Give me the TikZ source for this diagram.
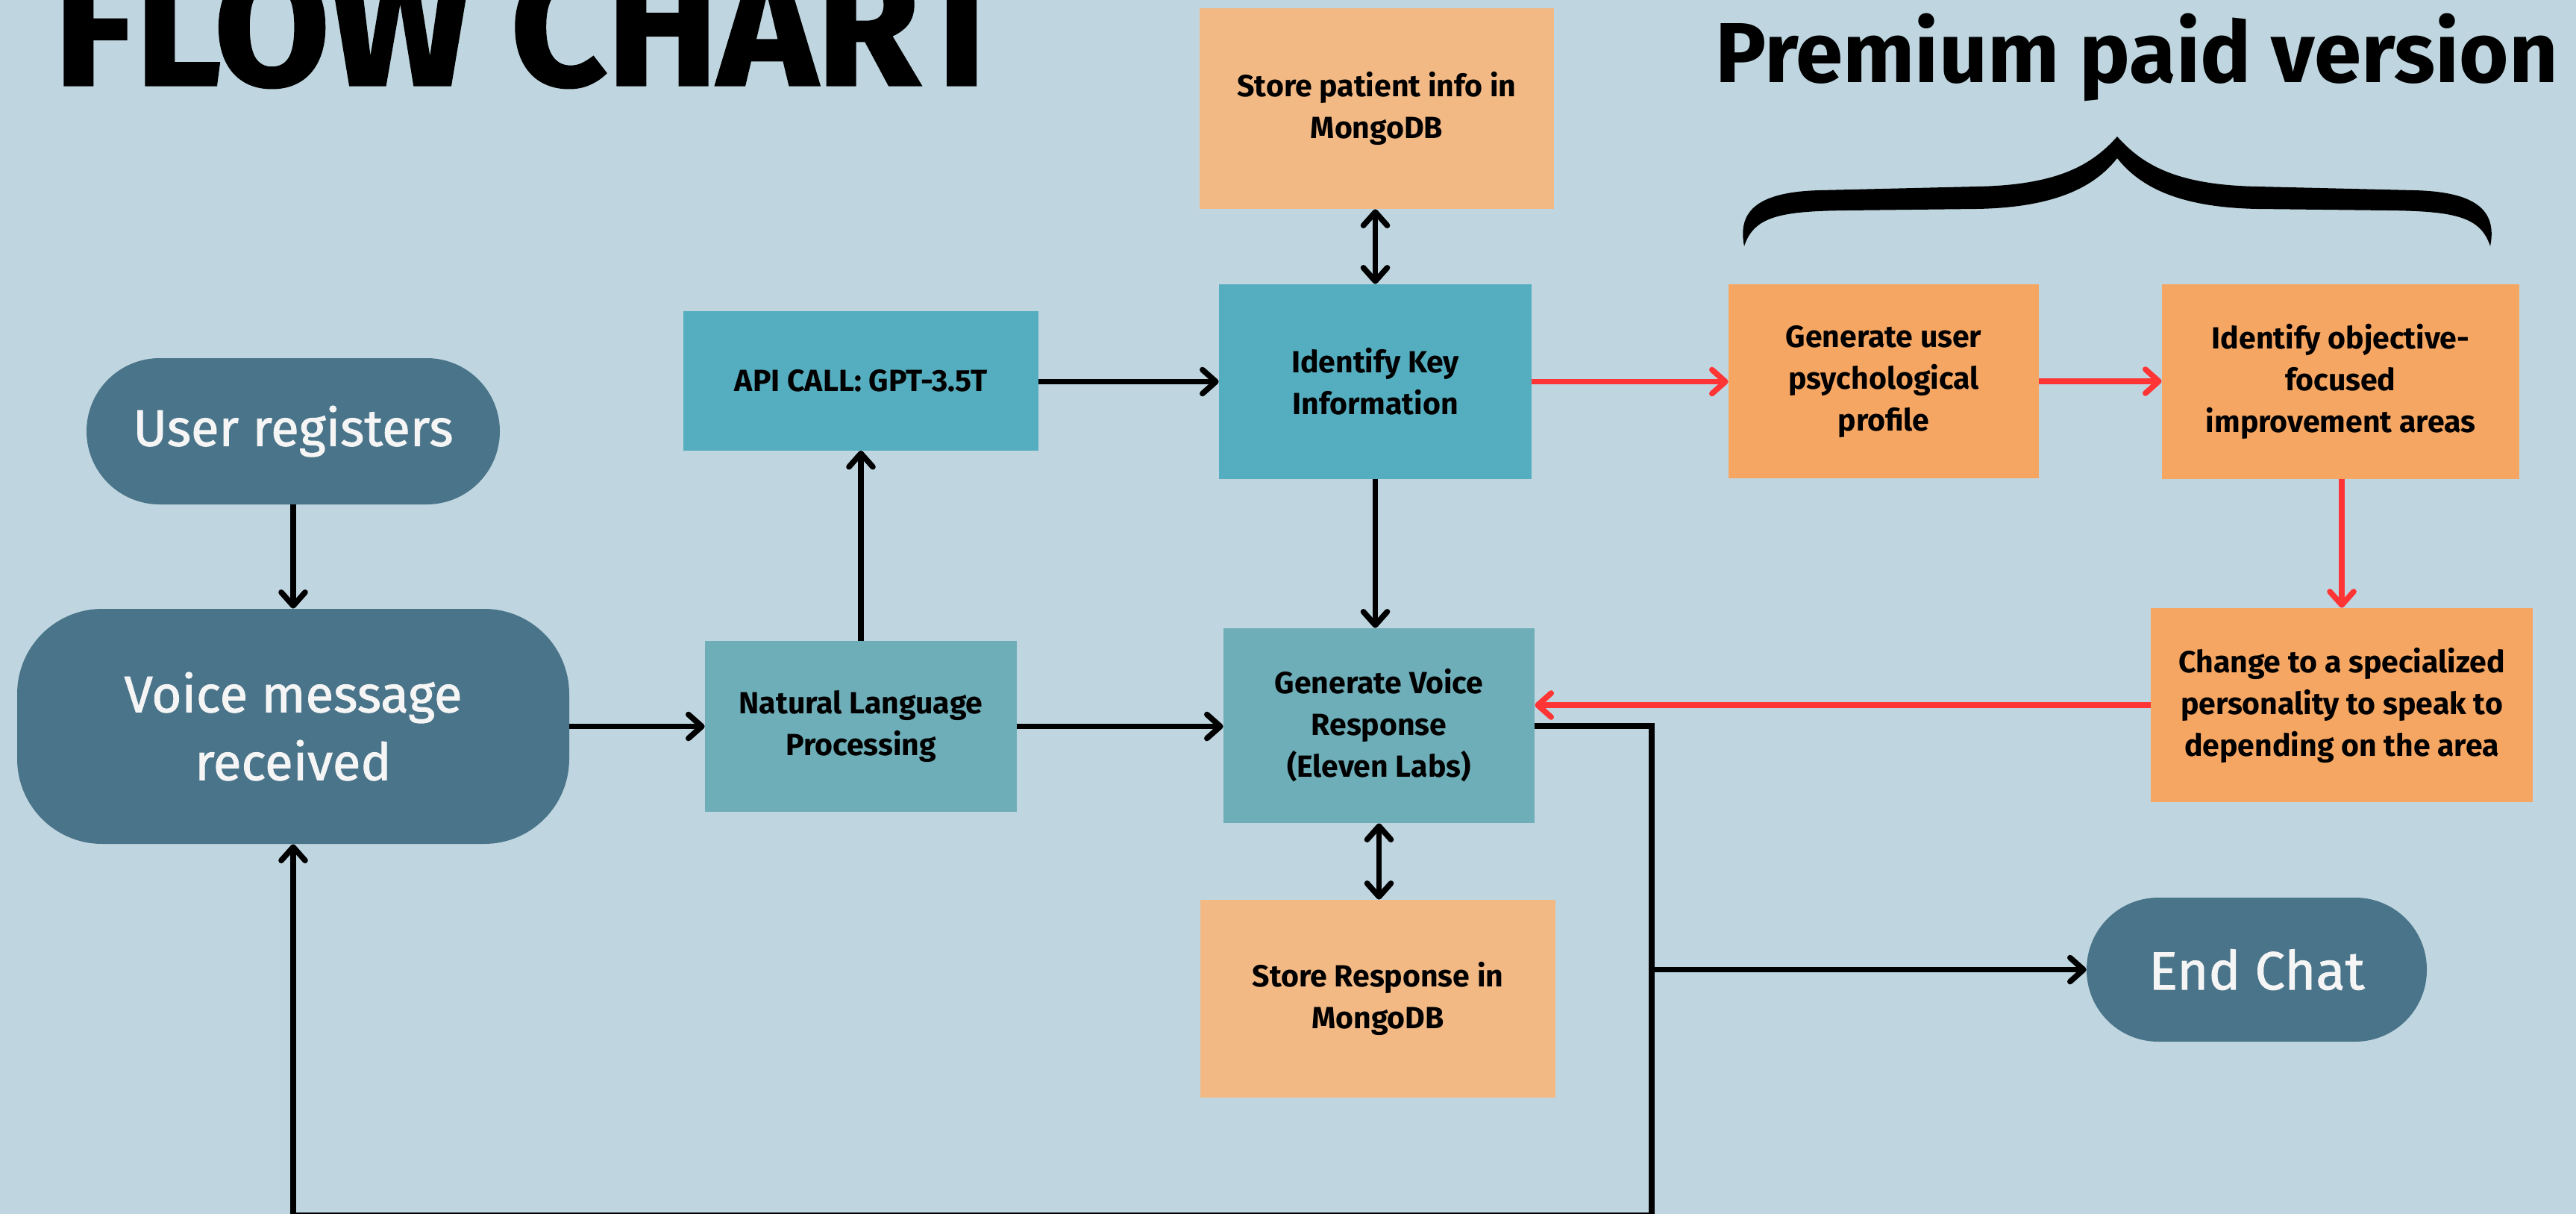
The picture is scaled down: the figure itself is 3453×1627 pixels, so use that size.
\documentclass[tikz,border=0pt]{standalone}
\usepackage{fontspec}
\setmainfont{Fira Sans}
\newfontfamily\pillfont{Fira Sans}[FakeBold=1.3]
\newfontfamily\titlefont{Fira Sans Bold}[FakeBold=1.5]
\usetikzlibrary{arrows.meta}
\definecolor{bgc}{HTML}{BFD6E0}
\definecolor{darkc}{HTML}{4A7489}
\definecolor{tealc}{HTML}{55AEBF}
\definecolor{teal2c}{HTML}{6EAEB8}
\definecolor{lorange}{HTML}{F2B985}
\definecolor{orangec}{HTML}{F6A663}
\definecolor{redc}{HTML}{FF3535}
\definecolor{whtc}{HTML}{F5F5F5}
\tikzset{
  boxtext/.style={align=center,font=\bfseries\fontsize{20.5}{28}\selectfont,text=black,inner sep=0pt},
  tealbox/.style={boxtext,fill=tealc},
  teal2box/.style={boxtext,fill=teal2c},
  lbox/.style={boxtext,fill=lorange},
  obox/.style={boxtext,fill=orangec},
  pill/.style={fill=darkc,text=whtc,align=center,inner sep=0pt},
  conn/.style={line width=3.8pt,black,arrows={-Straight Barb[length=9pt,width=16pt,round]}},
  dconn/.style={line width=3.8pt,black,arrows={Straight Barb[length=9pt,width=16pt,round]-Straight Barb[length=9pt,width=16pt,round]}},
  rconn/.style={line width=3.8pt,redc,arrows={-Straight Barb[length=9pt,width=16pt,round]}}
}
\begin{document}
\begin{tikzpicture}[x=0.5pt,y=-0.5pt]
\useasboundingbox (0,0) rectangle (3453,1627);
\clip (0,0) rectangle (3453,1627);
\fill[bgc] (0,0) rectangle (3453,1627);

% titles
\node[anchor=base west,inner sep=0pt,font=\titlefont\fontsize{112}{120}\selectfont] (title) at (72,114) {FLOW CHART};
\node[anchor=base,inner sep=0pt,font=\bfseries\fontsize{57}{62}\selectfont] (prem) at (2864,111) {Premium paid version};

% brace
\fill[black] (2338,330) .. controls (2328,280) and (2360,257) .. (2440,255)
  -- (2650,250) .. controls (2760,248) and (2805,220) .. (2838,183)
  .. controls (2871,220) and (2916,248) .. (3026,250)
  -- (3236,255) .. controls (3316,257) and (3348,280) .. (3338,330)
  .. controls (3325,290) and (3290,283) .. (3200,282)
  -- (3026,280) .. controls (2920,278) and (2868,250) .. (2838,212)
  .. controls (2808,250) and (2756,278) .. (2650,280)
  -- (2476,282) .. controls (2386,283) and (2351,290) .. (2338,330) -- cycle;

% nodes
\node[lbox,minimum width=237.5pt,minimum height=134.5pt] (store1) at (1845.5,145.5) {Store patient info in\\MongoDB};
\node[tealbox,minimum width=238pt,minimum height=93.5pt] (api) at (1154,510) {API CALL: GPT-3.5T};
\node[tealbox,minimum width=209.5pt,minimum height=130.5pt] (ident) at (1843.5,511.5) {Identify Key\\Information};
\node[obox,minimum width=208pt,minimum height=130pt] (genuser) at (2525,511) {Generate user\\psychological\\profile};
\node[obox,minimum width=239.5pt,minimum height=130.5pt] (objective) at (3137.5,511.5) {Identify objective-\\focused\\improvement areas};
\node[obox,minimum width=256pt,minimum height=130pt] (change) at (3139,945) {Change to a specialized\\personality to speak to\\depending on the area};
\node[teal2box,minimum width=209pt,minimum height=114.5pt] (nlp) at (1154,973.5) {Natural Language\\Processing};
\node[teal2box,minimum width=208.5pt,minimum height=130.5pt] (genvoice) at (1848.5,972.5) {Generate Voice\\Response\\(Eleven Labs)};
\node[lbox,minimum width=238pt,minimum height=132.5pt] (store2) at (1847,1338.5) {Store Response in\\MongoDB};

\node[pill,rounded corners=49pt,minimum width=277pt,minimum height=98pt,font=\pillfont\fontsize{34.5}{45.5}\selectfont] (userreg) at (393,578) {User registers};
\node[pill,rounded corners=57pt,minimum width=370pt,minimum height=157.5pt,font=\pillfont\fontsize{34.5}{45.5}\selectfont] (voice) at (393,973.5) {Voice message\\received};
\node[pill,rounded corners=48pt,minimum width=228pt,minimum height=96.5pt,font=\pillfont\fontsize{36}{40}\selectfont] (endchat) at (3025,1299.5) {End Chat};

% coordinates for the loop
\coordinate (jn) at (2214,973);
\coordinate (jb) at (2214,1629);
\coordinate (lb) at (393,1629);
\coordinate (je) at (2214,1299.5);

% connectors
\draw[conn] (userreg.south) -- (voice.north);
\draw[conn] (voice.east |- nlp.west) -- (nlp.west);
\draw[conn] (nlp.north) -- (api.south);
\draw[conn] (api.east |- ident.west) -- (ident.west);
\draw[dconn] (store1.south -| ident.north) -- (ident.north);
\draw[conn] (ident.south) -- (ident.south |- genvoice.north);
\draw[conn] (nlp.east) -- (nlp.east -| genvoice.west);
\draw[dconn] (genvoice.south) -- (genvoice.south |- store2.north);
\draw[rconn] (ident.east) -- (ident.east -| genuser.west);
\draw[rconn] (genuser.east) -- (genuser.east -| objective.west);
\draw[rconn] (objective.south -| change.north) -- (change.north);
\draw[rconn] (change.west) -- (change.west -| genvoice.east);
\draw[conn,line join=miter] (genvoice.east |- jn) -- (jn) -- (jb) -- (lb) -- (voice.south);
\draw[conn] (je) -- (endchat.west);
\end{tikzpicture}
\end{document}
